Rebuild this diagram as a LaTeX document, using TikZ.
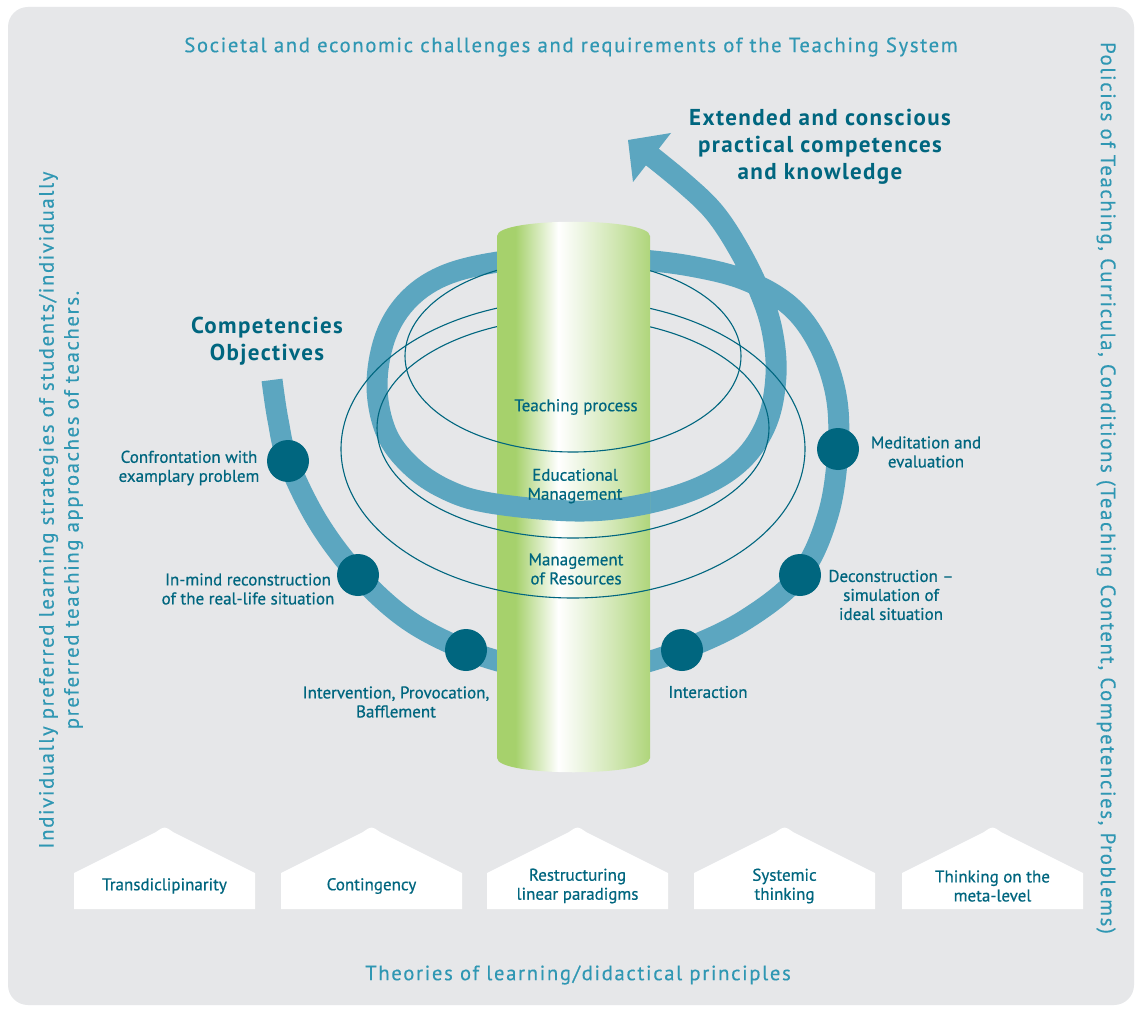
\documentclass[tikz,border=0pt]{standalone}
\usepackage{fontspec}
\setmainfont{PT Sans}
\newfontfamily\lblfont[FakeBold=0.6, Ligatures=TeX]{PT Sans}
\newfontfamily\trackfont[LetterSpace=8, FakeBold=0.3]{PT Sans}
\newfontfamily\headfont[LetterSpace=6]{PT Sans}

\definecolor{bggrey}{HTML}{E6E7E9}
\definecolor{bandblue}{HTML}{5CA6C0}
\definecolor{darkteal}{HTML}{00667F}
\definecolor{lightteal}{HTML}{2F97B3}
\definecolor{cylgreen}{HTML}{A6D16C}
\definecolor{cylmid}{HTML}{EEF6E4}
\definecolor{cyllight}{HTML}{CFE6B0}
\definecolor{cylright}{HTML}{AFD57B}

\pgfdeclarehorizontalshading{cylshade}{100bp}{color(0bp)=(cylgreen); color(25bp)=(cylgreen); color(31bp)=(cylgreen); color(45bp)=(white); color(52bp)=(cylmid); color(64bp)=(cyllight); color(75bp)=(cylright); color(100bp)=(cylright)}

% centre line of the spiral band, pixel coordinates
\def\bandpath{plot[smooth, tension=0.6] coordinates {(272,380) (278,420) (288,461) (318,522) (358,575) (408,620) (466,650) (520,666) (575,671) (630,666) (682,650) (745,620) (800,575) (828,515) (838,449) (836,395) (819,345) (790,306) (745,280) (690,266) (630,259) (570,257) (505,261) (448,274) (410,298) (386,335) (377,385) (386,432) (410,465) (445,489) (490,503) (575,511) (640,505) (700,487) (742,460) (767,422) (776,375) (772,330) (759,290) (738,248) (714,212) (684,183) (646,152)}}

\begin{document}
\begin{tikzpicture}[x=1pt, y=-1pt,
  band/.style={draw=bandblue, line width=21pt},
  thinring/.style={draw=darkteal, line width=1.1pt},
  dot/.style={circle, fill=darkteal, minimum size=42pt, inner sep=0pt},
  lbl/.style={text=darkteal, align=center, inner sep=0pt, font=\lblfont\fontsize{17}{19}\selectfont},
  headlbl/.style={text=darkteal, align=center, inner sep=0pt, font=\headfont\bfseries\fontsize{23}{27}\selectfont},
  outerlbl/.style={text=lightteal, align=center, inner sep=0pt, font=\trackfont\fontsize{20.7}{25}\selectfont},
  roofbox/.style={fill=white}]

\useasboundingbox (0,0) rectangle (1141,1011);
\fill[white] (0,0) rectangle (1141,1011);
\fill[bggrey, rounded corners=20pt] (8,7) rectangle (1134,1005);

% spiral, back parts
\draw[band] \bandpath;
\fill[bandblue] (628,140) -- (671,133) -- (633,182) -- cycle;

% thin rings
\draw[thinring] (573,356) ellipse[x radius=168, y radius=96];
\draw[thinring] (573,428) ellipse[x radius=196, y radius=110];
\draw[thinring] (573,449) ellipse[x radius=232, y radius=149];

% cylinder
\path[shading=cylshade] (497,236) -- (497,758) .. controls (497,777) and (650,777) .. (650,758)
  -- (650,236) .. controls (650,217) and (497,217) .. (497,236) -- cycle;

% parts in front of the cylinder
\begin{scope}
\clip (497,470) rectangle (650,545);
\draw[band] \bandpath;
\end{scope}
\begin{scope}
\clip (497,400) rectangle (650,780);
\draw[thinring] (573,356) ellipse[x radius=168, y radius=96];
\draw[thinring] (573,428) ellipse[x radius=196, y radius=110];
\draw[thinring] (573,449) ellipse[x radius=232, y radius=149];
\end{scope}

% stations on the spiral
\node[dot] (dconf) at (288,461) {};
\node[dot] (dinmind) at (358,575) {};
\node[dot] (dinterv) at (466,650) {};
\node[dot] (dinteract) at (682,650) {};
\node[dot] (ddecon) at (800,575) {};
\node[dot] (dmedit) at (838,449) {};

\node[headlbl] (lblcomp) at (267,341) {Competencies\\Objectives};
\node[headlbl] (lblext) at (820,147) {Extended and conscious\\practical competences\\and knowledge};

\node[lbl] (lblconf) at (189,468) {Confrontation with\\examplary problem};
\node[lbl] (lblinmind) at (248,589) {In-mind reconstruction\\of the real-life situation};
\node[lbl] (lblinterv) at (396,702) {Intervention, Provocation,\\Bafflement};
\node[lbl] (lblinteract) at (708,692) {Interaction};
\node[lbl] (lbldecon) at (891,595) {Deconstruction –\\simulation of\\ideal situation};
\node[lbl] (lblmedit) at (926,452) {Meditation and\\evaluation};

\node[lbl] (lblteach) at (576,407) {Teaching process};
\node[lbl] (lbledu) at (575,486) {Educational\\Management};
\node[lbl] (lblres) at (576,569) {Management\\of Resources};

% principles
\foreach \bx/\bn/\bt in {74/tbtrans/{Transdiclipinarity}, 281/tbcont/{Contingency},
  487/tbrestr/{Restructuring\\linear paradigms}, 694/tbsys/{Systemic\\thinking},
  902/tbmeta/{Thinking on the\\meta-level}}{
  \fill[roofbox] (\bx,909) -- (\bx,873) -- ({\bx+82},832) .. controls ({\bx+90.5},826) .. ({\bx+99},832)
    -- ({\bx+181},873) -- ({\bx+181},909) -- cycle;
  \node[lbl] (\bn) at ({\bx+90.5},886) {\bt};
}

% frame texts
\node[outerlbl] (lbltop) at (571,47) {Societal and economic challenges and requirements of the Teaching System};
\node[outerlbl] (lblbottom) at (578,975) {Theories of learning/didactical principles};
\node[outerlbl, rotate=90] (lblleft) at (61,510) {Individually preferred learning strategies of students/individually\\preferred teaching approaches of teachers.};
\node[outerlbl, rotate=-90] (lblright) at (1106,488) {Policies of Teaching, Curricula, Conditions (Teaching Content, Competencies, Problems)};
\end{tikzpicture}
\end{document}
